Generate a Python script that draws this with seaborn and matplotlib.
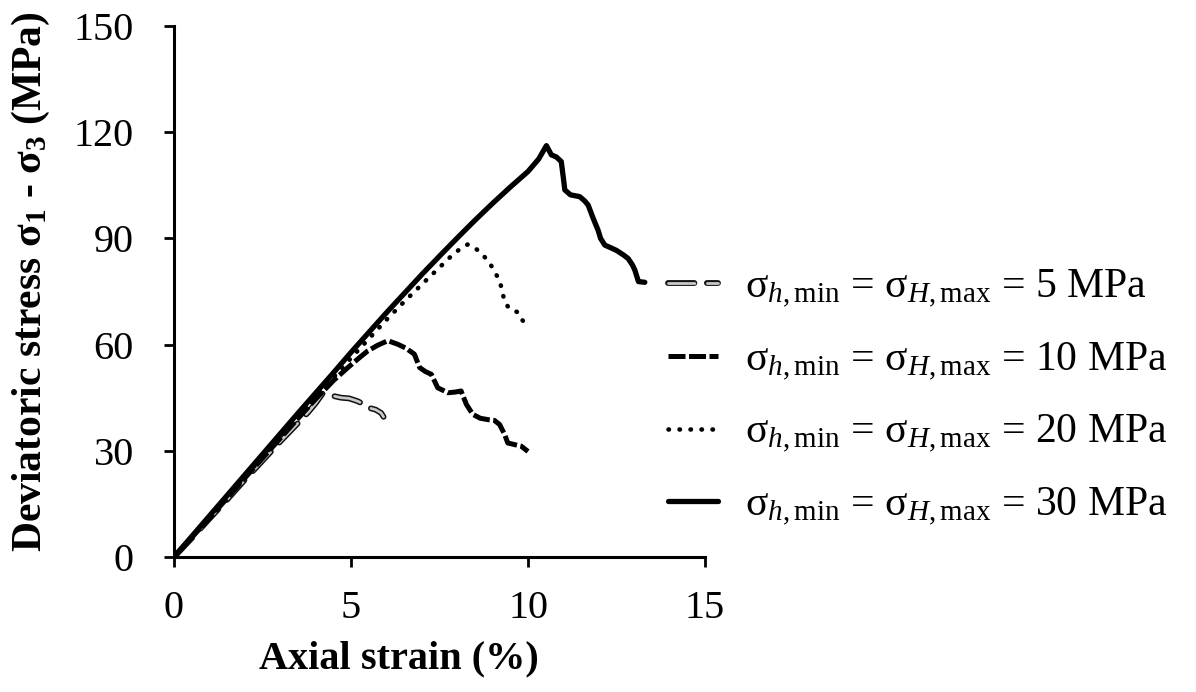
import matplotlib
matplotlib.use("Agg")
import matplotlib.pyplot as plt
import matplotlib.patheffects as pe
import seaborn as sns
import pandas as pd

# Deviatoric stress-strain curves for four confining stresses
strain_5 = [0, 0.5, 1.0, 1.5, 2.0, 2.5, 3.0, 3.5, 3.8, 4.0, 4.2, 4.45, 4.72, 4.95, 5.19, 5.35, 5.52, 5.7, 5.85, 5.92]
stress_5 = [0, 5.3, 10.8, 16.2, 21.8, 27.2, 32.6, 37.8, 41.0, 43.4, 46.2, 45.6, 45.0, 44.8, 44.0, 43.2, 42.1, 41.6, 40.7, 39.6]

strain_10 = [0, 0.5, 1.0, 1.5, 2.0, 2.5, 3.0, 3.5, 4.0, 4.5, 4.91, 5.19, 5.47, 5.75, 6.04, 6.32, 6.55, 6.79, 6.94,
             7.1, 7.27, 7.45, 7.74, 7.95, 8.11, 8.26, 8.44, 8.65, 8.87, 9.05, 9.2, 9.34, 9.43, 9.6, 9.81, 10.0]
stress_10 = [0, 5.5, 11.0, 16.6, 22.3, 27.9, 33.5, 39.1, 44.6, 49.8, 53.5, 55.9, 58.2, 59.8, 61.1, 60.1, 59.0, 57.3, 53.5,
             52.4, 51.6, 47.8, 46.4, 46.6, 46.9, 43.1, 40.3, 39.2, 38.8, 38.6, 37.4, 34.6, 32.2, 31.8, 31.3, 29.8]

strain_20 = [0, 1.0, 2.0, 3.0, 4.0, 5.0, 5.5, 6.0, 6.5, 7.0, 7.5, 7.8, 8.1, 8.3, 8.45, 8.6, 8.75, 8.9, 9.06,
             9.2, 9.29, 9.34, 9.48, 9.6, 9.72, 9.81, 9.9, 10.0]
stress_20 = [0, 11.3, 22.6, 33.9, 45.1, 56.2, 61.6, 67.0, 72.1, 77.0, 81.8, 84.7, 87.2, 88.3, 87.7, 86.5, 85.0, 83.4, 80.5,
             78.1, 74.3, 72.0, 70.1, 69.6, 69.1, 67.2, 66.3, 65.3]

strain_30 = [0, 0.5, 1.0, 1.5, 2.0, 2.5, 3.0, 3.5, 4.0, 4.5, 5.0, 5.5, 6.0, 6.5, 7.0, 7.5, 8.0, 8.5, 9.0, 9.5, 10.0,
             10.3, 10.52, 10.66, 10.8, 10.94, 11.0, 11.04, 11.2, 11.46, 11.6, 11.7, 11.84, 11.98, 12.05, 12.17,
             12.35, 12.5, 12.7, 12.83, 12.95, 13.02, 13.12, 13.3]
stress_30 = [0, 5.8, 11.6, 17.4, 23.2, 29.0, 34.8, 40.6, 46.3, 52.0, 57.8, 63.4, 69.0, 74.4, 79.8, 85.0, 90.1, 95.1, 99.9, 104.5, 108.9,
             112.4, 116.2, 113.6, 113.0, 111.7, 107.0, 103.7, 102.3, 101.8, 100.6, 99.4, 95.7, 92.3, 90.0, 88.1,
             87.3, 86.6, 85.3, 84.3, 82.5, 81.0, 77.8, 77.6]

labels = [
    r"σ$_{\mathit{h}\mathrm{,min}}$ = σ$_{\mathit{H}\mathrm{,max}}$ = 5 MPa",
    r"σ$_{\mathit{h}\mathrm{,min}}$ = σ$_{\mathit{H}\mathrm{,max}}$ = 10 MPa",
    r"σ$_{\mathit{h}\mathrm{,min}}$ = σ$_{\mathit{H}\mathrm{,max}}$ = 20 MPa",
    r"σ$_{\mathit{h}\mathrm{,min}}$ = σ$_{\mathit{H}\mathrm{,max}}$ = 30 MPa",
]
x_ticks = [0, 5, 10, 15]
y_ticks = [0, 30, 60, 90, 120, 150]

sns.set_theme(style="ticks")
plt.rcParams["font.family"] = ["Liberation Serif", "DejaVu Serif"]
plt.rcParams["mathtext.fontset"] = "custom"
plt.rcParams["mathtext.rm"] = "Liberation Serif"
plt.rcParams["mathtext.it"] = "Liberation Serif:italic"
plt.rcParams["mathtext.bf"] = "Liberation Serif:bold"
for key in ("text.color", "axes.labelcolor", "xtick.color", "ytick.color", "axes.edgecolor"):
    plt.rcParams[key] = "black"

fig = plt.figure(figsize=(11.96, 6.92), dpi=100)
ax = fig.add_axes([174 / 1196, 1 - 557 / 692, 531 / 1196, 531 / 692])

series = [(strain_5, stress_5), (strain_10, stress_10), (strain_20, stress_20), (strain_30, stress_30)]
for (xs, ys), lab in zip(series, labels):
    df = pd.DataFrame({"strain": xs, "stress": ys})
    sns.lineplot(data=df, x="strain", y="stress", ax=ax, sort=False, estimator=None,
                 color="black", label=lab, legend=False)

l5, l10, l20, l30 = ax.lines[:4]
l5.set_color("#c8c8c8")
l5.set_linewidth(2.0)
l5.set_dashes((9.5, 4.5))
l5.set_dash_capstyle("round")
l5.set_path_effects([pe.Stroke(linewidth=4.2, foreground="#111111"), pe.Normal()])
l10.set_linewidth(3.6)
l10.set_dashes((3.4, 0.7))
l10.set_dash_capstyle("butt")
l20.set_linewidth(3.3)
l20.set_dashes((0.1, 2.3))
l20.set_dash_capstyle("round")
l30.set_linewidth(3.8)

ax.set_xlim(0, 15)
ax.set_ylim(0, 150)
ax.set_xticks(x_ticks)
ax.set_yticks(y_ticks)
sns.despine(ax=ax)
for s in ("left", "bottom"):
    ax.spines[s].set_linewidth(2.2)
    ax.spines[s].set_color("black")
ax.tick_params(axis="both", direction="out", length=7, width=2, colors="black", labelsize=29)
ax.tick_params(axis="x", pad=17)
ax.tick_params(axis="y", pad=22)

ax.set_xlabel("Axial strain (%)", fontsize=29, fontweight="bold")
ax.set_ylabel(r"Deviatoric stress σ$_\mathregular{1}$ - σ$_\mathregular{3}$ (MPa)", fontsize=30, fontweight="bold")
ax.xaxis.set_label_coords((399 - 174) / 531, (557 - 640) / 531)
ax.yaxis.set_label_coords((52 - 174) / 531, (557 - 282) / 531)

handles, labs = ax.get_legend_handles_labels()
fig.legend(handles, labs, loc="center left", bbox_to_anchor=(668 / 1196, 1 - 398 / 692),
           bbox_transform=fig.transFigure, frameon=False, fontsize=30, handlelength=1.2,
           handletextpad=0.65, labelspacing=0.74, borderpad=0, borderaxespad=0)

fig.savefig("out.png", dpi=100)
